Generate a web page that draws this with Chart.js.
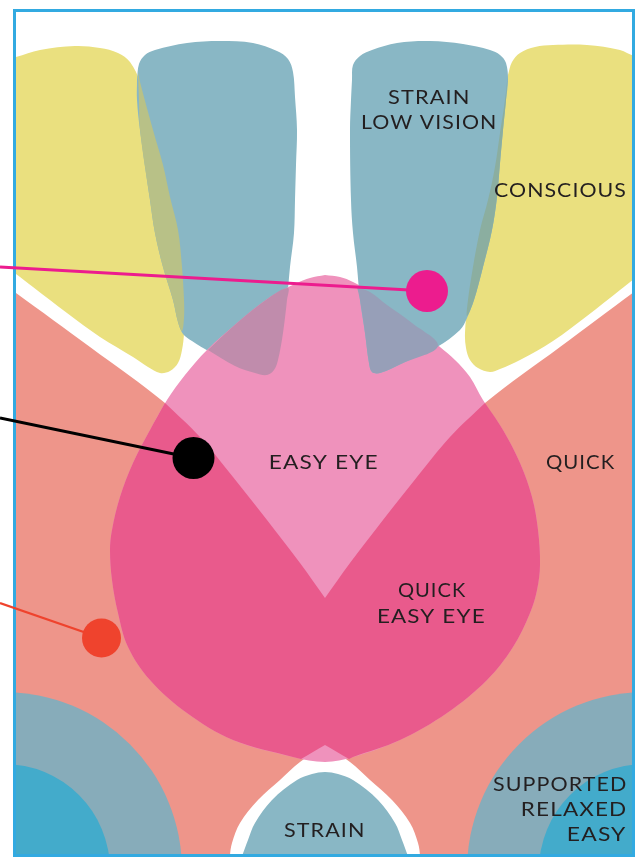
<!DOCTYPE html>
<html><head><meta charset="utf-8">
<script src="https://cdn.jsdelivr.net/npm/chart.js@4.4.0/dist/chart.umd.min.js"></script>
<style>html,body{margin:0;padding:0;background:#fff;overflow:hidden}canvas{display:block}</style>
</head><body>
<canvas id="c" width="641" height="866"></canvas>
<script>
// ---------- shape outlines (data coordinates) ----------
const frameBox = [[14.5,10.5],[633.5,10.5],[633.5,855.5],[14.5,855.5],[14.5,10.5]];

const salmonShape = [[-10,274],[16,293],[90,347],[165,403],[200,437],[233,477],[267,520],[300,563],[325,598],[325,598],
  [350,563],[383,520],[417,477],[450,437],[485,403],[560,347],[634,292],[660,273],[660,273],[660,880],[660,880],
  [420,880],[420,880],[420,856],[418,843],[410,823],[392,800],[370,780],[350,762],[325,745],[325,745],
  [300,762],[280,780],[258,800],[240,823],[232,843],[230,856],[230,880],[230,880],[-10,880],[-10,880],[-10,274]];

const bigQuarterCircles = [{x:4,y:870,r:178},{x:645,y:870,r:178}];
const smallQuarterCircles = [{x:4,y:870,r:106},{x:645,y:870,r:106}];

const strainBottom = [[232,880],[242,856],[248,840],[255,823],[272,800],[297,780],[312,774],[325,772],[338,774],
  [353,780],[378,800],[395,823],[402,840],[408,856],[418,880]];

const yellowLeft = [[-10,255],[-10,62],[-10,62],[16,57],[40,50],[75,46],[100,48],[118,53],[130,62],[140,82],[153,130],
  [163,165],[170,197],[178,230],[182,267],[184,300],[184,333],[182,350],[178,363],[170,371],[160,373],[148,367],
  [133,357],[100,337],[67,313],[33,287],[16,274],[-10,255]];

const blueLeft = [[137,80],[139,64],[145,55],[155,50],[187,43],[220,41],[253,43],[277,51],[288,59],[293,72],[295,97],
  [297,130],[296,165],[295,200],[294,233],[290,267],[287,300],[283,333],[278,360],[274,370],[267,375],[255,373],
  [235,366],[210,352],[192,341],[183,334],[178,322],[173,300],[163,267],[155,233],[150,200],[140,130],[137,100],[137,80]];

const oliveLeft = [[138,72],[139,100],[140,130],[150,200],[155,233],[163,267],[173,300],[178,322],[182,331],
  [184,318],[184,300],[182,267],[178,230],[170,197],[163,165],[153,130],[140,82],[138,72]];

const teardrop = [[325,275],[340,277],[353,282],[370,292],[387,305],[412,323],[440,347],[455,360],[470,377],[483,400],
  [503,430],[520,463],[532,497],[538,530],[540,565],[537,590],[530,613],[513,647],[487,680],[447,713],[400,740],
  [353,757],[325,762],[293,757],[233,740],[187,713],[150,680],[128,647],[118,613],[112,580],[110,550],[112,530],
  [120,497],[133,463],[150,430],[167,400],[185,375],[207,350],[237,323],[270,297],[297,283],[310,278],[325,275]];

const mauveLeft = [[208,350],[237,323],[270,297],[288,288],[287,300],[283,333],[278,360],[274,370],[267,375],
  [255,373],[235,366],[208,350]];

const darkPink = [[165,403],[200,437],[233,477],[267,520],[300,563],[325,598],[325,598],[350,563],[383,520],[417,477],
  [450,437],[485,403],[485,403],[503,430],[520,463],[532,497],[538,530],[540,565],[537,590],[530,613],[513,647],
  [487,680],[447,713],[400,740],[353,757],[349,759],[349,759],[325,745],[325,745],[301,759],[301,759],[293,757],
  [233,740],[187,713],[150,680],[128,647],[118,613],[112,580],[110,550],[112,530],[120,497],[133,463],[150,430],[165,403]];

const yellowRight = [[508,75],[512,62],[520,53],[535,47],[553,45],[587,45],[620,50],[634,56],[660,62],[660,62],
  [660,258],[660,258],[634,279],[620,290],[587,316],[553,341],[520,360],[500,369],[490,372],[478,368],[470,360],
  [466,348],[465,333],[468,300],[473,267],[480,230],[488,200],[495,167],[500,133],[505,100],[508,75]];

const blueRight = [[352,80],[353,65],[360,56],[372,50],[397,43],[430,41],[463,44],[490,50],[500,55],[506,63],[508,80],
  [506,100],[503,130],[500,163],[497,197],[492,230],[483,267],[474,300],[467,318],[460,330],[437,347],[403,363],
  [380,373],[372,372],[369,363],[365,333],[360,300],[357,267],[353,233],[351,200],[350,130],[351,100],[352,80]];

const stripRight = [[508,72],[506,100],[503,130],[500,163],[497,197],[492,230],[483,267],[474,300],[467,316],
  [468,300],[473,267],[480,230],[488,200],[495,167],[500,133],[505,100],[508,72]];

const lavenderRight = [[357,287],[370,292],[387,305],[412,323],[438,346],[403,363],[380,373],[372,372],[369,363],
  [365,333],[360,300],[357,287]];

// leader lines and markers
const pinkLine = [[0,267],[427,291]];
const blackLine = [[0,418],[193,458]];
const redLine = [[0,603],[101,638]];
const pinkDot = [[427,291]];
const blackDot = [[193.5,458]];
const redDot = [[101.5,638]];

// text labels
const labelTexts = ['STRAIN','LOW VISION','CONSCIOUS','EASY EYE','QUICK','QUICK','EASY EYE','SUPPORTED','RELAXED','EASY','STRAIN'];
const labelLeft  = [388,362,494,270,546,398,378,493,522,568,284];
const labelBase  = [104,129,197,469,469,597,623,791,816,841,837];
const labelWidth = [80,133,131,107,69,68,106,133,104,58,79];

// ---------- styles ----------
const C = {
  salmon:'#EE958A', quarter:'#87ACBA', brightBlue:'#43ABCB', petal:'#89B7C5', yellow:'#EAE07F',
  olive:'#B8C187', strip:'#8BAEA0', pink:'#EF92BC', mauve:'#C08CAC', lavender:'#979FB8', dark:'#E95A8C',
  frame:'#32AAE1', pinkMark:'#EC1C8E', redMark:'#EF432D', black:'#000000', text:'#231F20'
};

const pts = a => a.map(([x,y]) => ({x, y}));
const layers = [];
function shape(data, color, tension) {
  layers.push({type:'line', data:pts(data), backgroundColor:color, borderColor:color, borderWidth:0, fill:'shape',
    pointRadius:0, pointHoverRadius:0, tension: tension === undefined ? 0.35 : tension, capBezierPoints:false,
    clip:{left:0,top:0,right:0,bottom:0}});
}
function circles(data, color) {
  layers.push({type:'bubble', data:data, backgroundColor:color, borderWidth:0, hoverRadius:0,
    clip:{left:0,top:0,right:0,bottom:0}});
}
function leader(data, color, width) {
  layers.push({type:'line', data:pts(data), borderColor:color, borderWidth:width, fill:false, pointRadius:0,
    tension:0, clip:false, borderCapStyle:'butt'});
}
function dot(data, color, r) {
  layers.push({type:'scatter', data:pts(data), backgroundColor:color, pointBackgroundColor:color, pointRadius:r,
    pointBorderWidth:0, borderWidth:0, showLine:false, clip:false});
}

// bottom -> top
shape(salmonShape, C.salmon);
circles(bigQuarterCircles, C.quarter);
circles(smallQuarterCircles, C.brightBlue);
shape(strainBottom, C.petal);
shape(yellowLeft, C.yellow);
shape(blueLeft, C.petal);
shape(oliveLeft, C.olive);
shape(teardrop, C.pink);
shape(mauveLeft, C.mauve);
shape(darkPink, C.dark);
shape(yellowRight, C.yellow);
shape(blueRight, C.petal);
shape(stripRight, C.strip);
shape(lavenderRight, C.lavender);
layers.push({type:'line', data:pts(frameBox), borderColor:C.frame, borderWidth:3, fill:false, pointRadius:0,
  tension:0, clip:false, borderJoinStyle:'miter', borderCapStyle:'square'});
leader(pinkLine, C.pinkMark, 3);
leader(blackLine, C.black, 3);
leader(redLine, C.redMark, 2.3);
dot(pinkDot, C.pinkMark, 21);
dot(blackDot, C.black, 21);
dot(redDot, C.redMark, 19.5);

layers.forEach((d, i) => { d.order = layers.length - i; });

const labelPlugin = {
  id:'labels',
  afterDatasetsDraw(chart) {
    const {ctx} = chart, xs = chart.scales.x, ys = chart.scales.y;
    ctx.save();
    ctx.fillStyle = C.text;
    ctx.textAlign = 'left';
    ctx.textBaseline = 'alphabetic';
    ctx.font = '400 20px Lato';
    if ('letterSpacing' in ctx) ctx.letterSpacing = '1px';
    labelTexts.forEach((t, i) => {
      const m = ctx.measureText(t);
      const ink = m.actualBoundingBoxLeft + m.actualBoundingBoxRight;
      const sx = labelWidth[i] / ink;
      ctx.save();
      ctx.translate(xs.getPixelForValue(labelLeft[i]), ys.getPixelForValue(labelBase[i]));
      ctx.scale(sx, 1);
      ctx.fillText(t, m.actualBoundingBoxLeft, 0);
      ctx.restore();
    });
    ctx.restore();
  }
};

new Chart(document.getElementById('c'), {
  type:'scatter',
  data:{datasets:layers},
  options:{
    responsive:false, animation:false, devicePixelRatio:1, events:[],
    layout:{autoPadding:false, padding:{left:13, top:9, right:6, bottom:9}},
    scales:{
      x:{type:'linear', min:13, max:635, display:false},
      y:{type:'linear', min:9, max:857, reverse:true, display:false}
    },
    elements:{line:{capBezierPoints:false}},
    plugins:{legend:{display:false}, tooltip:{enabled:false}}
  },
  plugins:[labelPlugin]
});
</script>
</body></html>
